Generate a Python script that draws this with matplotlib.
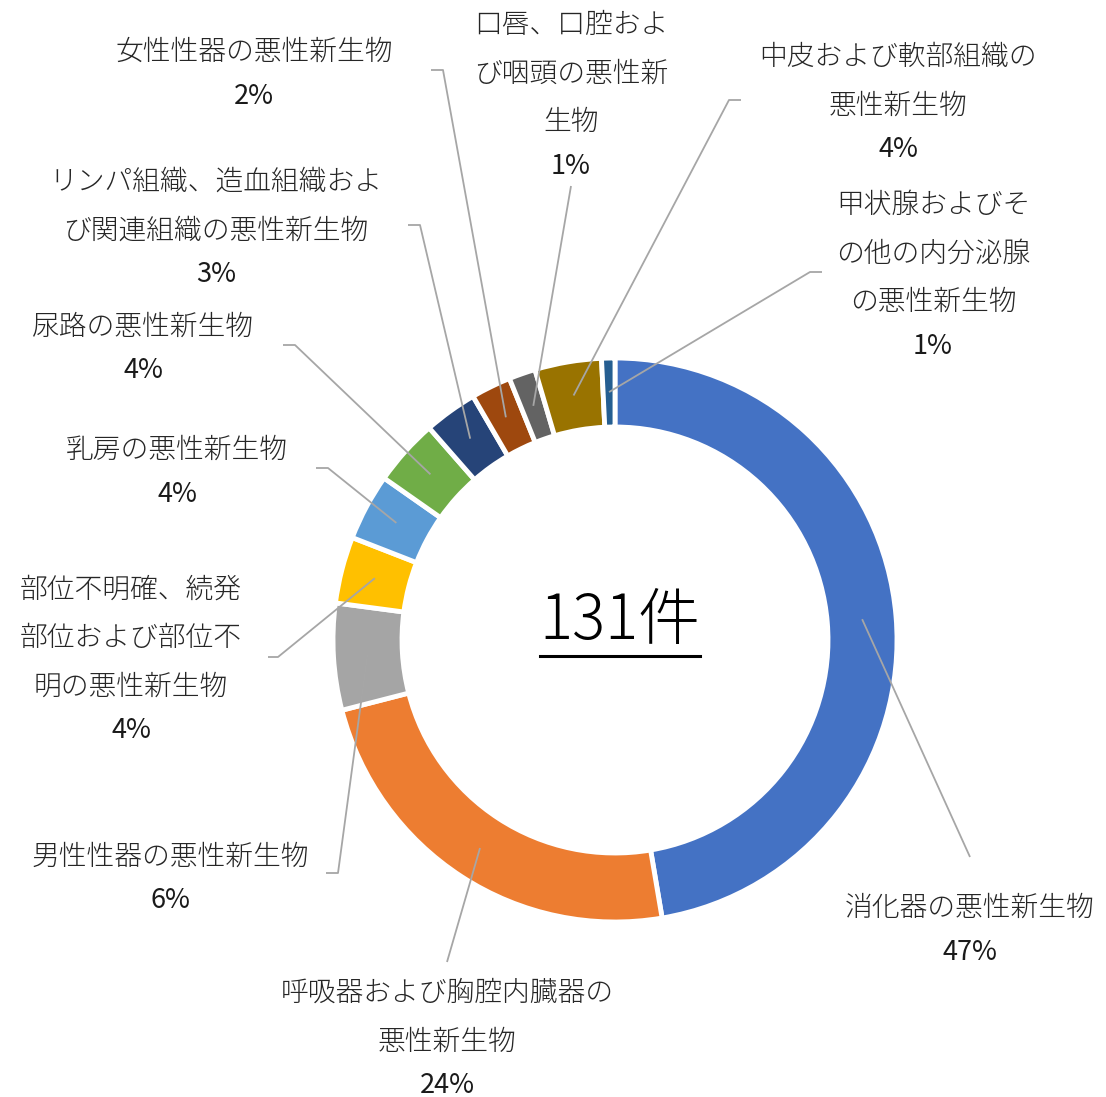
import numpy as np
import matplotlib
matplotlib.use("Agg")
import matplotlib.pyplot as plt

plt.rcParams['font.family'] = ['Noto Sans CJK JP', 'DejaVu Sans']

# data (131 cases, clockwise from 12 o'clock)
categories = [
    "消化器の悪性新生物",
    "呼吸器および胸腔内臓器の\n悪性新生物",
    "男性性器の悪性新生物",
    "部位不明確、続発\n部位および部位不\n明の悪性新生物",
    "乳房の悪性新生物",
    "尿路の悪性新生物",
    "リンパ組織、造血組織およ\nび関連組織の悪性新生物",
    "女性性器の悪性新生物",
    "口唇、口腔およ\nび咽頭の悪性新\n生物",
    "中皮および軟部組織の\n悪性新生物",
    "甲状腺およびそ\nの他の内分泌腺\nの悪性新生物",
]
counts = [62, 31, 8, 5, 5, 5, 4, 3, 2, 5, 1]
pct_labels = ["47%", "24%", "6%", "4%", "4%", "4%", "3%", "2%", "1%", "4%", "1%"]
total_label = "131件"

colors = ["#4472C4", "#ED7D31", "#A5A5A5", "#FFC000", "#5B9BD5", "#70AD47",
          "#264478", "#9E480E", "#636363", "#997300", "#255E91"]

W, H = 1106, 1097
fig = plt.figure(figsize=(W / 100, H / 100), dpi=100)
ax = fig.add_axes([0, 0, 1, 1])

cx, cy = 615, H - 640
R, ring = 282, 69

wedges, _ = ax.pie(counts, colors=colors, startangle=90, counterclock=False,
                   radius=R, center=(cx, cy),
                   wedgeprops=dict(width=ring, edgecolor="white", linewidth=3.5))

ax.set_xlim(0, W)
ax.set_ylim(0, H)
ax.set_aspect("equal")
ax.axis("off")

# label layout in image pixels: centre x, first line y, leader elbow, tail end
label_pos = [(970, 908), (447, 993), (170, 857), (131, 590), (177, 450),
             (143, 327), (216, 182), (254, 52), (571, 25), (898, 57), (933, 205)]
elbows = [(970, 857), (447, 962), (338, 873), (278, 657), (328, 468),
          (295, 345), (420, 225), (443, 70), (571, 186), (729, 100), (810, 272)]
tails = [None, None, (326, 873), (268, 657), (316, 468),
         (283, 345), (408, 225), (431, 70), None, (741, 100), (822, 272)]

line_step = 48.5
lc = "#A6A6A6"
for w, name, pct, (lx, ly), (ex, ey), tl in zip(wedges, categories, pct_labels,
                                                 label_pos, elbows, tails):
    mid = np.radians((w.theta1 + w.theta2) / 2)
    r_mid = R - ring / 2 + 0.5
    sx, sy = cx + r_mid * np.cos(mid), cy + r_mid * np.sin(mid)
    xs, ys = [sx, ex], [sy, H - ey]
    if tl is not None:
        xs.append(tl[0])
        ys.append(H - tl[1])
    ax.plot(xs, ys, color=lc, lw=1.3, zorder=1, solid_capstyle="butt")

    lines = name.split("\n")
    for i, t in enumerate(lines):
        ax.text(lx, H - (ly + i * line_step), t, ha="center", va="center",
                fontsize=20, fontweight="light", color="#262626")
    ax.text(lx, H - (ly + (len(lines) - 1) * line_step + 44), pct,
            ha="center", va="center", fontsize=19.5, color="#1a1a1a")

# centre total, underlined
txt = ax.text(620, H - 622, total_label, ha="center", va="center",
              fontsize=44.5, fontweight="light", color="black")
fig.canvas.draw()
bb = txt.get_window_extent(renderer=fig.canvas.get_renderer())
ax.plot([bb.x0, bb.x1], [H - 656, H - 656], color="black", lw=2.2)

fig.savefig("out.png", dpi=100)
